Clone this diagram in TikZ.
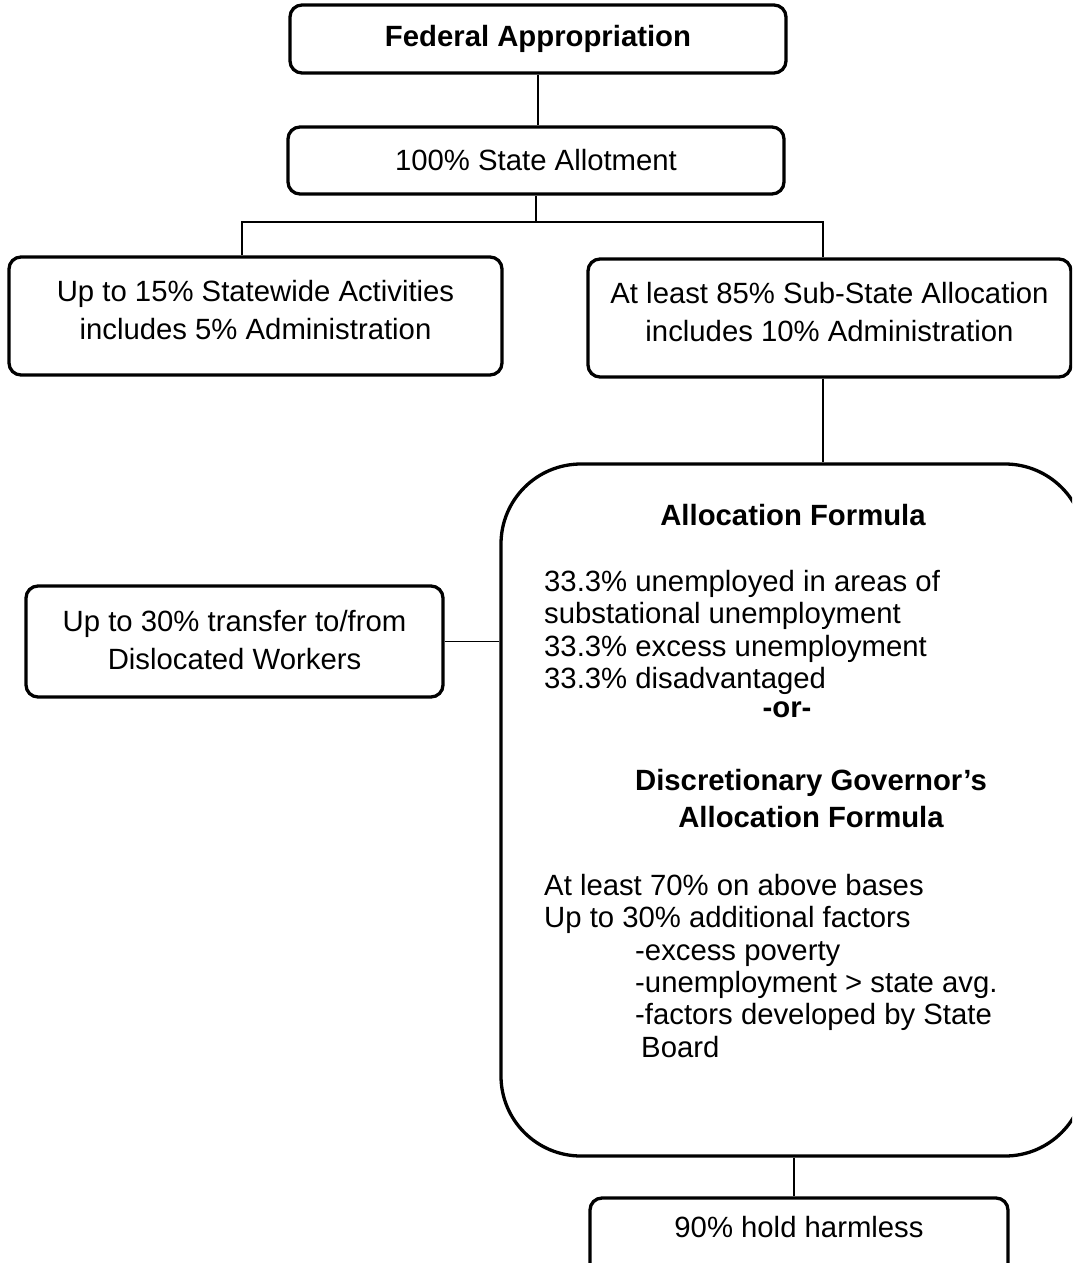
\documentclass[tikz,border=0pt]{standalone}
\usepackage{fontspec}
\setmainfont{Liberation Sans}
\begin{document}
\begin{tikzpicture}[x=1pt,y=-1pt,
  every node/.style={inner sep=0pt,font=\fontsize{29.3}{38}\selectfont},
  box/.style={draw,line width=3.3pt,rounded corners=12pt,align=center,minimum width=#1},
  bigbox/.style={draw,line width=3.3pt,rounded corners=80pt},
  conn/.style={line width=1.6pt},
  txt/.style={anchor=base west},
  ctxt/.style={anchor=base,font=\fontsize{29.3}{38}\selectfont\bfseries}]
\useasboundingbox (0,0) rectangle (1072,1263);
\clip (0,0) rectangle (1072,1263);
% boxes
\node[box=496pt,minimum height=68pt,font=\fontsize{29.3}{38}\selectfont\bfseries] (fed) at (538,39) {Federal Appropriation};
\node[box=496pt,minimum height=67pt] (state) at (536,160.5) {100\% State Allotment};
\node[box=493pt,minimum height=118pt,text depth=13pt] (sw) at (255.5,316) {Up to 15\% Statewide Activities\\includes 5\% Administration};
\node[box=483pt,minimum height=118pt,text depth=13pt] (sub) at (829.5,318) {At least 85\% Sub-State Allocation\\includes 10\% Administration};
\node[box=417pt,minimum height=111pt,text depth=4pt] (disl) at (234.5,641.5) {Up to 30\% transfer to/from\\Dislocated Workers};
\node[bigbox,minimum width=584pt,minimum height=692pt] (alloc) at (793,810) {};
\node[box=418pt,minimum height=94pt] (hold) at (799,1245) {};
\node[anchor=base] (holdt) at (799,1237) {90\% hold harmless};
% text inside allocation box
\node[ctxt] (h1) at (793,525) {Allocation Formula};
\node[txt] (l1) at (544,591) {33.3\% unemployed in areas of};
\node[txt] (l2) at (544,623) {substational unemployment};
\node[txt] (l3) at (544,656) {33.3\% excess unemployment};
\node[txt] (l4) at (544,688) {33.3\% disadvantaged};
\node[ctxt] (or) at (787,717) {-or-};
\node[ctxt] (h2) at (811,790) {Discretionary Governor’s};
\node[ctxt] (h3) at (811,827) {Allocation Formula};
\node[txt] (m1) at (544,895) {At least 70\% on above bases};
\node[txt] (m2) at (544,927) {Up to 30\% additional factors};
\node[txt] (s1) at (635,960) {-excess poverty};
\node[txt] (s2) at (635,992) {-unemployment > state avg.};
\node[txt] (s3) at (635,1024) {-factors developed by State};
\node[txt] (s4) at (641,1057) {Board};
% connectors
\coordinate (jl) at (242,222);
\coordinate (jr) at (823,222);
\coordinate (jb) at (794,0);
\draw[conn] (fed.south) -- (fed.south |- state.north);
\draw[conn] (state.south) -- (state.south |- jl);
\draw[conn] (jl |- sw.north) -- (jl) -- (jr) -- (jr |- sub.north);
\draw[conn] (jr |- sub.south) -- (jr |- alloc.north);
\draw[conn] (disl.east) -- (disl.east -| alloc.west);
\draw[conn] (jb |- alloc.south) -- (jb |- hold.north);
\end{tikzpicture}
\end{document}
